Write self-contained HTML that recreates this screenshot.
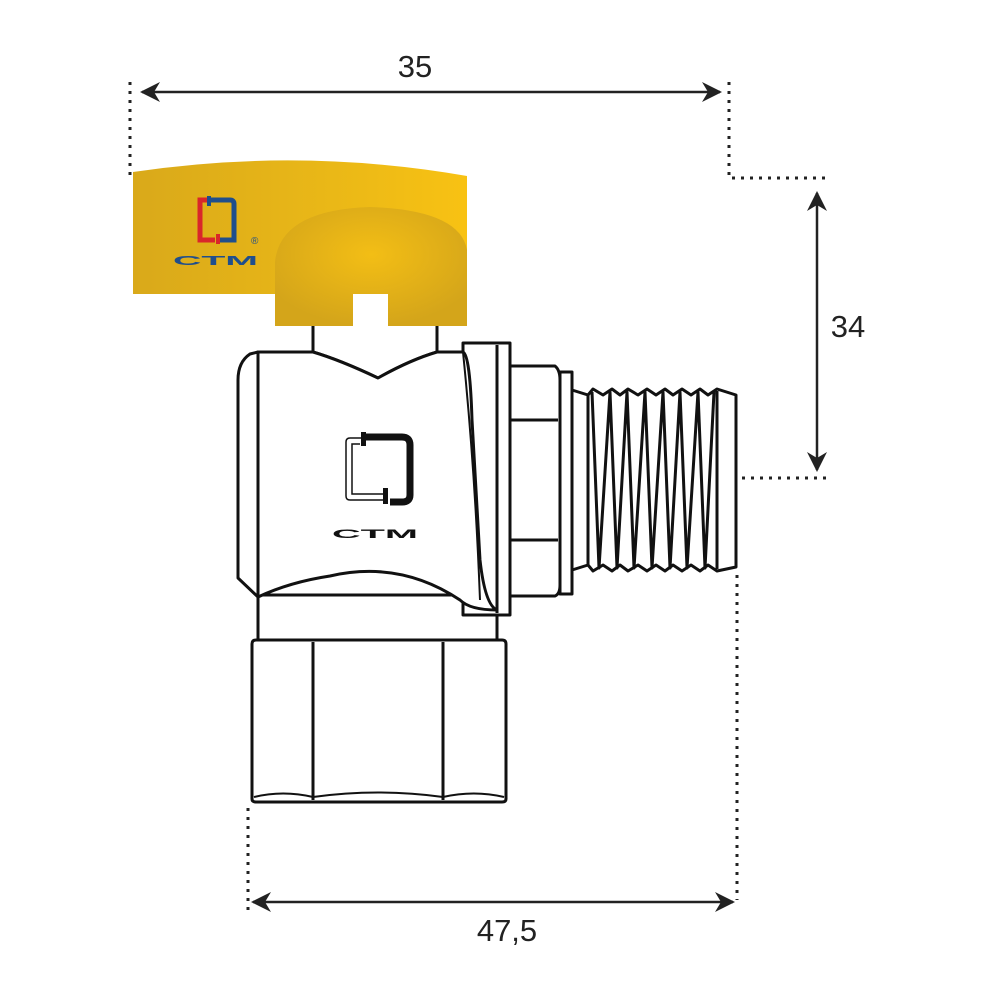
<!DOCTYPE html>
<html><head><meta charset="utf-8"><style>
html,body{margin:0;padding:0;background:#fff}
svg{display:block}
text{font-family:"Liberation Sans",sans-serif}
</style></head><body>
<svg width="1000" height="1000" viewBox="0 0 1000 1000" xmlns="http://www.w3.org/2000/svg">
<defs>
<marker id="ah" viewBox="0 0 20 20" refX="18" refY="10" markerWidth="20" markerHeight="20" markerUnits="userSpaceOnUse" orient="auto-start-reverse">
<path d="M0,0 L20,10 L0,20 L6,10 Z" fill="#222"/></marker>
<linearGradient id="yg" x1="0" x2="1" y1="0" y2="0">
<stop offset="0" stop-color="#d9a91a"/><stop offset="0.6" stop-color="#eab817"/><stop offset="1" stop-color="#f8c213"/></linearGradient>
<radialGradient id="yc" cx="0.5" cy="0.4" r="0.6">
<stop offset="0" stop-color="#f3be15"/><stop offset="1" stop-color="#d4a51a"/></radialGradient>
</defs>
<g stroke="#222" stroke-width="2.5" fill="none">
<line x1="142" y1="92" x2="720" y2="92" marker-start="url(#ah)" marker-end="url(#ah)"/>
<line x1="817" y1="193" x2="817" y2="470" marker-start="url(#ah)" marker-end="url(#ah)"/>
<line x1="253" y1="902" x2="733" y2="902" marker-start="url(#ah)" marker-end="url(#ah)"/>
</g>
<g stroke="#222" stroke-width="3" stroke-dasharray="3,6" fill="none">
<line x1="130" y1="82" x2="130" y2="175"/>
<polyline points="729,82 729,178 828,178"/>
<line x1="742" y1="478" x2="828" y2="478"/>
<line x1="248" y1="808" x2="248" y2="912"/>
<line x1="737" y1="575" x2="737" y2="900"/>
</g>
<text x="415" y="77" font-size="31" text-anchor="middle" fill="#222">35</text>
<text x="848" y="337" font-size="31" text-anchor="middle" fill="#222">34</text>
<text x="507" y="941" font-size="31" text-anchor="middle" fill="#222">47,5</text>

<!-- handle -->
<path d="M133,172 Q300,147 467,176 L467,294 L133,294 Z" fill="url(#yg)"/>
<path d="M275,262 Q280,210 370,207 Q460,210 467,250 L467,326 L388,326 L388,294 L353,294 L353,326 L275,326 Z" fill="url(#yc)"/>
<!-- colored logo -->
<path d="M211,200 L200,200 L200,240 L215,240" stroke="#d9262a" stroke-width="5" fill="none"/>
<path d="M211,200 L230,200 Q234,200 234,204 L234,240 L220,240" stroke="#1f4e8c" stroke-width="5" fill="none"/>
<rect x="207" y="196" width="4" height="10" fill="#1f4e8c"/><rect x="216" y="234" width="4" height="10" fill="#d9262a"/>
<text x="251" y="244" font-size="10" fill="#1f4e8c">®</text>
<text x="173" y="265" font-size="18" fill="#1f4e8c" font-weight="bold" textLength="85" lengthAdjust="spacingAndGlyphs" transform="translate(173 265) scale(1 0.7) translate(-173 -265)">CTM</text>

<g stroke="#111" stroke-width="3" fill="#fff" stroke-linejoin="round">
<!-- stem -->
<path d="M313,326 L313,352 Q340,360 378,378 Q410,360 437,352 L437,326"/>
<!-- lower ring -->
<rect x="258" y="595" width="239" height="45"/>
<!-- hex nut bottom -->
<path d="M252,644 Q252,640 256,640 L502,640 Q506,640 506,644 L506,799 Q506,802 502,802 L256,802 Q252,802 252,799 Z"/>
<line x1="313" y1="642" x2="313" y2="800"/><line x1="443" y1="642" x2="443" y2="800"/>
<path d="M254,797 Q283,790 313,797 Q378,788 443,797 Q474,790 504,797" fill="none" stroke-width="2"/>
<!-- right hex -->
<path d="M508,366 L555,366 Q560,370 560,380 L560,585 Q560,594 555,596 L508,596 Z"/>
<line x1="510" y1="420" x2="558" y2="420"/><line x1="510" y1="540" x2="558" y2="540"/>
<rect x="560" y="372" width="12" height="222"/>
<!-- flange -->
<rect x="463" y="343" width="47" height="272"/>
<line x1="497" y1="345" x2="497" y2="613"/>
<!-- body -->
<path d="M258,352 L313,352 Q340,360 378,378 Q410,360 437,352 L463,352 Q470,355 472,420 L480,560 Q485,605 497,610 Q470,610 460,600 Q400,560 330,576 Q290,582 258,597 Z"/>
<path d="M258,352 L250,354 Q238,362 238,380 L238,578 L258,597 Z"/>
<path d="M463,352 Q475,470 480,600" fill="none" stroke-width="2"/>
<!-- thread -->
<path d="M572,390 L588,395 L588,565 L572,570 Z"/>
<polyline fill="none" points="588,395 593,389 603,395 612,389 620,395 628,389 638,395 647,389 656,395 665,389 673,395 682,389 691,395 700,389 708,395 717,389 736,395 736,567 717,571 708,565 700,571 691,565 682,571 673,565 665,571 656,565 647,571 638,565 628,571 620,565 612,571 603,565 593,571 588,565"/>
<polyline fill="none" stroke-width="3" points="592,392 599,568 610,392 617,568 627,392 634,568 645,392 652,568 663,392 670,568 680,392 687,568 698,392 705,568 714,392"/>
<line x1="717" y1="391" x2="717" y2="569"/>
</g>
<!-- body logo -->
<path d="M365,438 L350,438 Q346,438 346,442 L346,496 Q346,500 350,500 L383,500" stroke="#111" stroke-width="1.5" fill="none"/>
<path d="M360,444 L352,444 L352,494 L383,494" stroke="#111" stroke-width="1.5" fill="none"/>
<path d="M366,437 L402,437 Q410,437 410,445 L410,495 Q410,502 402,502 L390,502" stroke="#111" stroke-width="7" fill="none"/>
<rect x="361" y="432" width="5" height="14" fill="#111"/><rect x="383" y="488" width="5" height="16" fill="#111"/>
<text x="332" y="538" font-size="17" fill="#111" font-weight="bold" textLength="86" lengthAdjust="spacingAndGlyphs" transform="translate(332 538) scale(1 0.7) translate(-332 -538)">CTM</text>
</svg>
</body></html>
